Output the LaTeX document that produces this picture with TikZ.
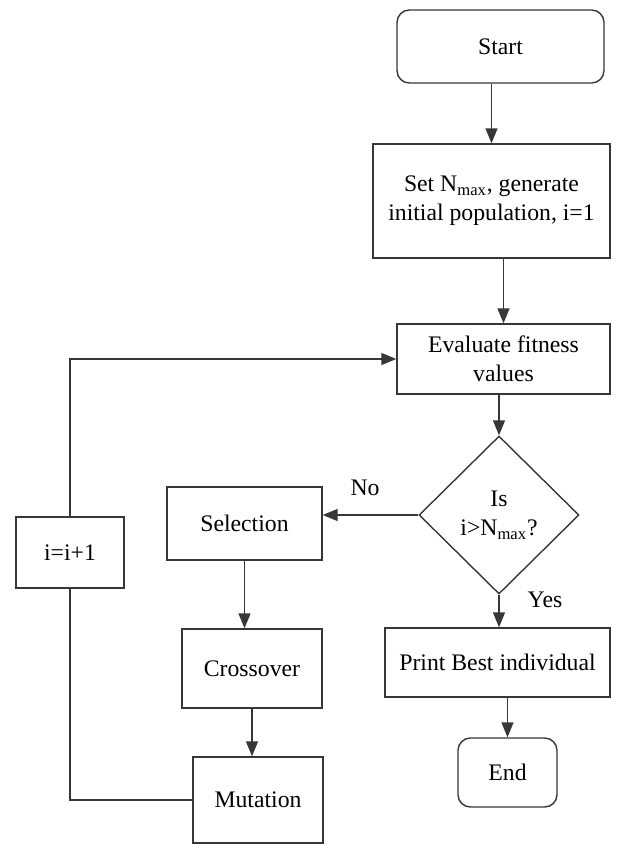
\documentclass[tikz,border=0pt]{standalone}
\usepackage{fontspec}
\setmainfont{Liberation Serif}
\usetikzlibrary{shapes, arrows.meta, positioning, calc}
\definecolor{lineg}{RGB}{55, 55, 55}

\begin{document}
\begin{tikzpicture}[
  x=0.02cm, y=-0.02cm,
  font=\fontsize{13.5}{16.5}\selectfont,
  pbox/.style={draw=lineg, line width=0.8pt, fill=white, align=center, inner sep=0pt},
  tbox/.style={pbox, rounded corners=7pt},
  dbox/.style={draw=lineg, line width=0.8pt, fill=white, diamond, align=center, inner sep=0pt, minimum width=3.2cm, minimum height=3.16cm},
  flow/.style={draw=lineg, line width=0.8pt, -{Triangle[length=0.3cm, width=0.24cm]}}
]
  \useasboundingbox (0,0) rectangle (625,845);

  % main column
  \node[tbox, minimum width=4.14cm, minimum height=1.46cm] (start) at (500.5, 46.5) {Start};
  \node[pbox, minimum width=4.74cm, minimum height=2.28cm] (setn) at (491.5, 201) {Set N\textsubscript{max}, generate\\initial population, i=1};
  \node[pbox, minimum width=4.26cm, minimum height=1.4cm] (eval) at (503.5, 359) {Evaluate fitness\\values};
  \node[dbox] (test) at (499, 515) {Is\\i>N\textsubscript{max}?};
  \node[pbox, minimum width=4.5cm, minimum height=1.38cm] (print) at (497.5, 662.5) {Print Best individual};
  \node[tbox, minimum width=1.98cm, minimum height=1.38cm] (end) at (507.5, 772.5) {End};

  % loop column
  \node[pbox, minimum width=3.1cm, minimum height=1.46cm] (sel) at (244.5, 523.5) {Selection};
  \node[pbox, minimum width=2.8cm, minimum height=1.58cm] (cross) at (252, 668.5) {Crossover};
  \node[pbox, minimum width=2.6cm, minimum height=1.72cm] (mut) at (258, 800) {Mutation};
  \node[pbox, minimum width=2.16cm, minimum height=1.42cm] (inc) at (70, 552.5) {i=i+1};

  \node (nolab) at (365, 488) {No};
  \node (yeslab) at (545, 600) {Yes};

  \draw[flow] (start.south -| setn) -- (setn.north);
  \draw[flow] (eval.north |- setn.south) -- (eval.north);
  \draw[flow] (test.north |- eval.south) -- (test.north);
  \draw[flow] (test.south) -- (test.south |- print.north);
  \draw[flow] (end.north |- print.south) -- (end.north);
  \draw[flow] (test.west) -- (test.west -| sel.east);
  \draw[flow] (sel.south) -- (sel.south |- cross.north);
  \draw[flow] (cross.south) -- (cross.south |- mut.north);

  % back to evaluation
  \draw[draw=lineg, line width=0.8pt] (mut.west) -| (inc.south);
  \draw[flow] (inc.north) |- (eval.west);
\end{tikzpicture}
\end{document}
